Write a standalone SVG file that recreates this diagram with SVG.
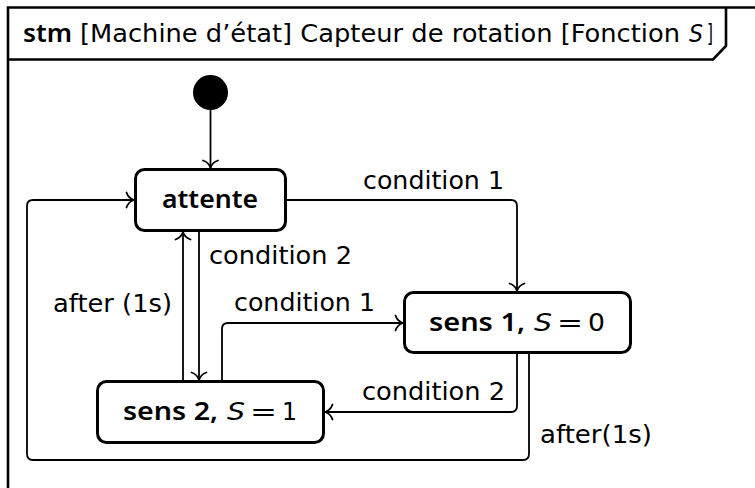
<svg xmlns="http://www.w3.org/2000/svg" width="755" height="488" viewBox="0 0 755 488">
  <style>
    text { font-family: "DejaVu Sans", "Liberation Sans", sans-serif; font-size: 24px; fill: #000; }
    .b { font-family: "Noto Sans", "DejaVu Sans", sans-serif; font-weight: 600; font-size: 25px; }
    .i { font-style: italic; }
    .frame { fill: none; stroke: #000; stroke-width: 2.6; }
    .state { fill: #fff; stroke: #000; stroke-width: 3; }
    .edge { fill: none; stroke: #000; stroke-width: 1.8; marker-end: url(#to); }
  </style>
  <defs>
    <marker id="to" viewBox="-10 -9 12 18" markerWidth="12" markerHeight="18" refX="0" refY="0" orient="auto" markerUnits="userSpaceOnUse">
      <path d="M -7.5 -7.5 C -6 -3, -2.5 -0.8, 0 0 C -2.5 0.8, -6 3, -7.5 7.5" fill="none" stroke="#000" stroke-width="1.8" stroke-linecap="round"/>
    </marker>
  </defs>

  <rect width="755" height="488" fill="#fff"/>

  <!-- diagram frame and name tab -->
  <g id="frame">
    <path class="frame" d="M 8 495 V 7.5 H 760"/>
    <path class="frame" d="M 8 59.5 H 713 L 726 46 V 7.5"/>
    <text x="23" y="42" class="b" textLength="49" lengthAdjust="spacingAndGlyphs">stm</text>
    <text x="80" y="42" textLength="600" lengthAdjust="spacingAndGlyphs">[Machine d’état] Capteur de rotation [Fonction</text>
    <text x="689" y="42" class="i" font-size="25" textLength="14" lengthAdjust="spacingAndGlyphs">S</text>
    <text x="707" y="42" textLength="6" lengthAdjust="spacingAndGlyphs">]</text>
  </g>

  <!-- transitions -->
  <g id="connectors">
    <path class="edge" d="M 210.5 110 V 168"/>
    <path class="edge" d="M 287 200 H 511 Q 517 200 517 206 V 291"/>
    <path class="edge" d="M 222 380 V 329 Q 222 323 228 323 H 403"/>
    <path class="edge" d="M 517 354 V 406 Q 517 412 511 412 H 325"/>
    <path class="edge" d="M 199 232 V 380"/>
    <path class="edge" d="M 183 380 V 232"/>
    <path class="edge" d="M 529 354 V 454 Q 529 460 523 460 H 33 Q 27 460 27 454 V 206 Q 27 200 33 200 H 134"/>

    <text x="363" y="189" textLength="141" lengthAdjust="spacingAndGlyphs">condition 1</text>
    <text x="209" y="264" textLength="143" lengthAdjust="spacingAndGlyphs">condition 2</text>
    <text x="53" y="312" textLength="119" lengthAdjust="spacingAndGlyphs">after (1s)</text>
    <text x="234" y="311" textLength="141" lengthAdjust="spacingAndGlyphs">condition 1</text>
    <text x="362" y="400" textLength="143" lengthAdjust="spacingAndGlyphs">condition 2</text>
    <text x="540" y="443" textLength="112" lengthAdjust="spacingAndGlyphs">after(1s)</text>
  </g>

  <!-- initial pseudo-state -->
  <g id="initial">
    <circle cx="210.5" cy="92.5" r="17.5" fill="#000"/>
  </g>

  <g id="attente">
    <rect class="state" x="135.5" y="169.5" width="150" height="61" rx="9"/>
    <text x="162" y="208" class="b" textLength="96" lengthAdjust="spacingAndGlyphs">attente</text>
  </g>

  <g id="sens1">
    <rect class="state" x="404.5" y="292.5" width="226" height="60" rx="9"/>
    <text x="429" y="331" class="b" textLength="96" lengthAdjust="spacingAndGlyphs">sens 1,</text>
    <text x="534" y="331" class="i" textLength="18" lengthAdjust="spacingAndGlyphs">S</text>
    <text x="557" y="331" textLength="26" lengthAdjust="spacingAndGlyphs">=</text>
    <text x="588" y="331" textLength="17" lengthAdjust="spacingAndGlyphs">0</text>
  </g>

  <g id="sens2">
    <rect class="state" x="97.5" y="381.5" width="226" height="61" rx="9"/>
    <text x="123" y="420" class="b" textLength="95" lengthAdjust="spacingAndGlyphs">sens 2,</text>
    <text x="227" y="420" class="i" textLength="18" lengthAdjust="spacingAndGlyphs">S</text>
    <text x="250" y="420" textLength="27" lengthAdjust="spacingAndGlyphs">=</text>
    <text x="282" y="420" textLength="15" lengthAdjust="spacingAndGlyphs">1</text>
  </g>
</svg>
